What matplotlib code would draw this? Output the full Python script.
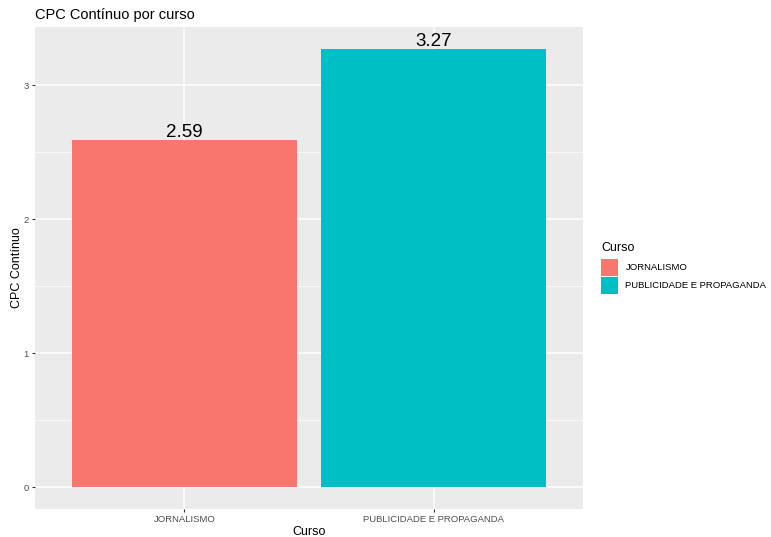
import matplotlib
matplotlib.use("Agg")
import matplotlib.pyplot as plt
from matplotlib.patches import Patch

plt.rcParams['font.family'] = ['Liberation Sans', 'DejaVu Sans']

cursos = ["JORNALISMO", "PUBLICIDADE E PROPAGANDA"]
cpc = [2.59, 3.27]
cores = ["#F8766D", "#00BFC4"]
y_ticks = [0, 1, 2, 3]

fig = plt.figure(figsize=(7.71, 5.37), dpi=100)
ax = fig.add_axes([35 / 771, 1 - 509 / 537, 548 / 771, 482 / 537])

ax.set_facecolor("#EBEBEB")
for s in ax.spines.values():
    s.set_visible(False)

xpos = [1, 2]
ax.set_xlim(0.4, 2.6)
ymax = max(cpc)
ax.set_ylim(-0.05 * ymax, ymax * 1.05)

# grid
for y in y_ticks:
    ax.axhline(y, color="white", lw=1.1, zorder=0)
for y in [0.5, 1.5, 2.5]:
    ax.axhline(y, color="white", lw=0.5, zorder=0)
for x in xpos:
    ax.axvline(x, color="white", lw=1.1, zorder=0)

ax.bar(xpos, cpc, width=0.9, color=cores, zorder=2)
for x, v in zip(xpos, cpc):
    ax.text(x, v - 0.01, f"{v:.2f}", ha="center", va="bottom", fontsize=13.5, color="black")

ax.set_xticks(xpos)
ax.set_xticklabels(cursos)
ax.set_yticks(y_ticks)
ax.tick_params(axis="both", length=2.5, width=0.8, color="#333333",
               labelsize=6.8, labelcolor="#4D4D4D", pad=2)

ax.set_xlabel("Curso", fontsize=9, labelpad=1.5)
ax.set_ylabel("CPC Contínuo", fontsize=9, labelpad=0.5)
ax.set_title("CPC Contínuo por curso", fontsize=10.5, loc="left", x=0.0, pad=6)

handles = [Patch(facecolor=c, edgecolor="none") for c in cores]
leg = fig.legend(handles, cursos, title="Curso", loc="upper left",
                 bbox_to_anchor=(599 / 771, 1 - 240 / 537), frameon=False,
                 fontsize=6.8, title_fontsize=9, handlelength=1.8, handleheight=2.4,
                 handletextpad=0.8, labelspacing=0.1, borderaxespad=0, borderpad=0.2)
leg._legend_box.align = "left"
leg._legend_box.sep = 3.6  # gap between title and keys

fig.savefig("out.png", dpi=100)
